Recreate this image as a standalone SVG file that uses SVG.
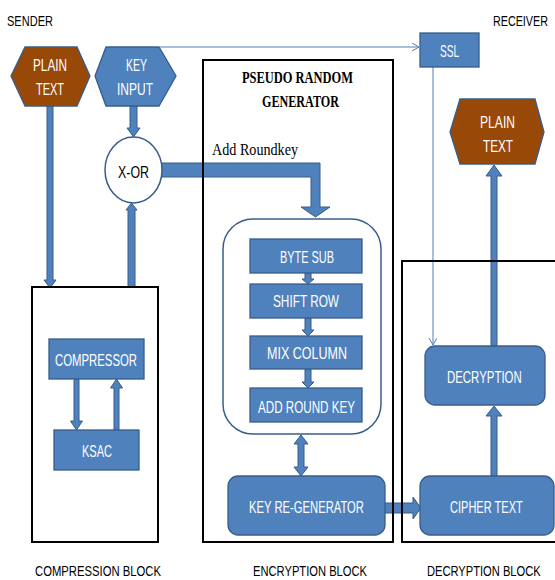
<svg xmlns="http://www.w3.org/2000/svg" width="555" height="580" viewBox="0 0 555 580">
<style>
.t{font-family:"Liberation Sans Narrow","Liberation Sans",Arial,sans-serif;font-size:17px;fill:#ffffff}
.k{font-family:"Liberation Sans Narrow","Liberation Sans",Arial,sans-serif;font-size:17px;fill:#000000}
.kb{font-family:"Liberation Sans Narrow","Liberation Sans",Arial,sans-serif;font-size:15px;fill:#000000}
.s{font-family:"Liberation Serif","Times New Roman",serif;font-size:17px;fill:#000000}
.sb{font-family:"Liberation Serif","Times New Roman",serif;font-size:16px;font-weight:bold;fill:#000000}
.box{fill:#4F81BD;stroke:#385D8A;stroke-width:1.3}
.brown{fill:#984807;stroke:#385D8A;stroke-width:1.3}
.arr{fill:#4F81BD;stroke:#385D8A;stroke-width:1}
.thin{fill:none;stroke:#4F81BD;stroke-width:1;marker-end:url(#open)}
.blk{fill:none;stroke:#000000;stroke-width:2}
</style>
<defs>
<marker id="open" markerWidth="10" markerHeight="10" refX="8" refY="4" orient="auto" markerUnits="userSpaceOnUse">
<path d="M1,0 L8,4 L1,8" fill="none" stroke="#4F81BD" stroke-width="1"/>
</marker>
</defs>
<g id="labels">
<text class="kb" x="7" y="26" textLength="46" lengthAdjust="spacingAndGlyphs">SENDER</text>
<text class="kb" transform="translate(493,26) scale(0.717,1)" x="0" y="0">RECEIVER</text>
<text class="s" x="212" y="155" textLength="86" lengthAdjust="spacingAndGlyphs">Add Roundkey</text>
<text class="sb" x="242" y="83" textLength="111" lengthAdjust="spacingAndGlyphs">PSEUDO RANDOM</text>
<text class="sb" x="262" y="107" textLength="77" lengthAdjust="spacingAndGlyphs">GENERATOR</text>
<text class="kb" x="35" y="576" textLength="126" lengthAdjust="spacingAndGlyphs">COMPRESSION BLOCK</text>
<text class="kb" x="253" y="576" textLength="114" lengthAdjust="spacingAndGlyphs">ENCRYPTION BLOCK</text>
<text class="kb" transform="translate(427,576) scale(0.743,1)" x="0" y="0">DECRYPTION BLOCK</text>
</g>
<g id="connectors">
<line class="thin" x1="160" y1="47" x2="419" y2="47"/>
<line class="thin" x1="433" y1="67" x2="433" y2="345"/>
<polygon class="arr" points="47,106 53,106 53,280 56,280 50,288 44,280 47,280"/>
<polygon class="arr" points="130,106 137,106 137,128 140,128 133.5,137 127,128 130,128"/>
<polygon class="arr" points="128,287 135,287 135,210 137,210 131.5,203 126,210 128,210"/>
<polygon class="arr" points="74,379 79,379 79,421 82.5,421 76.5,430 70.5,421 74,421"/>
<polygon class="arr" points="114,430 119,430 119,388 122.5,388 116.5,379 110.5,388 114,388"/>
<polygon class="arr" points="158,163 320,163 320,207 330,207 315.5,217 301,207 311,207 311,177 158,177"/>
<polygon class="arr" points="305,273 311,273 311,279 314,279 308,284 302,279 305,279"/>
<polygon class="arr" points="305,318 311,318 311,330 314,330 308,336 302,330 305,330"/>
<polygon class="arr" points="305,369 311,369 311,382 314,382 308,388 302,382 305,382"/>
<polygon class="arr" points="301,435 308,444 304,444 304,467 308,467 301,476 294,467 298,467 298,444 294,444"/>
<polygon class="arr" points="384,503 413,503 413,497 421,508 413,519 413,513 384,513"/>
<polygon class="arr" points="491,476 497,476 497,416 502,416 494,406 486,416 491,416"/>
<polygon class="arr" points="491,346 497,346 497,176 502,176 494,165 486,176 491,176"/>
</g>
<g id="blocks">
<rect id="compression-block" class="blk" x="32" y="287" width="126" height="255"/>
<rect id="encryption-block" class="blk" x="203" y="60" width="190" height="482"/>
<path id="decryption-block" class="blk" d="M555,261 H402 V542 H555"/>
</g>
<g id="plain-text-sender">
<polygon class="brown" points="11,76 25,47 77,47 90,76 77,106 25,106"/>
<text class="t" x="33" y="71" textLength="34" lengthAdjust="spacingAndGlyphs">PLAIN</text>
<text class="t" x="36" y="95" textLength="28" lengthAdjust="spacingAndGlyphs">TEXT</text>
</g>
<g id="key-input">
<polygon class="box" points="95,76 106,47 159,47 176,76 159,106 106,106"/>
<text class="t" x="126" y="71" textLength="21" lengthAdjust="spacingAndGlyphs">KEY</text>
<text class="t" x="117" y="95" textLength="36" lengthAdjust="spacingAndGlyphs">INPUT</text>
</g>
<g id="xor">
<ellipse cx="133.5" cy="170" rx="28.5" ry="33" fill="#ffffff" stroke="#385D8A" stroke-width="1.5"/>
<text class="k" x="118" y="178" textLength="31" lengthAdjust="spacingAndGlyphs">X-OR</text>
</g>
<g id="ssl">
<rect class="box" x="420" y="33" width="59" height="34"/>
<text class="t" x="440" y="57" textLength="19" lengthAdjust="spacingAndGlyphs">SSL</text>
</g>
<g id="plain-text-receiver">
<polygon class="brown" points="450,132 460,99 535,99 544,132 535,164 460,164"/>
<text class="t" x="480" y="128" textLength="35" lengthAdjust="spacingAndGlyphs">PLAIN</text>
<text class="t" x="483" y="152" textLength="30" lengthAdjust="spacingAndGlyphs">TEXT</text>
</g>
<g id="compressor">
<rect class="box" x="49" y="339" width="95" height="40"/>
<text class="t" x="55" y="366" textLength="82" lengthAdjust="spacingAndGlyphs">COMPRESSOR</text>
</g>
<g id="ksac">
<rect class="box" x="54" y="430" width="85" height="40"/>
<text class="t" x="82" y="457" textLength="30" lengthAdjust="spacingAndGlyphs">KSAC</text>
</g>
<g id="aes-rounds">
<rect x="223" y="219" width="158" height="215" rx="30" ry="30" fill="none" stroke="#385D8A" stroke-width="1.5"/>
</g>
<g id="byte-sub">
<rect class="box" x="250" y="239" width="112" height="34"/>
<text class="t" x="280" y="263" textLength="54" lengthAdjust="spacingAndGlyphs">BYTE SUB</text>
</g>
<g id="shift-row">
<rect class="box" x="250" y="284" width="112" height="34"/>
<text class="t" x="273" y="307" textLength="66" lengthAdjust="spacingAndGlyphs">SHIFT ROW</text>
</g>
<g id="mix-column">
<rect class="box" x="250" y="336" width="112" height="33"/>
<text class="t" x="267" y="359" textLength="80" lengthAdjust="spacingAndGlyphs">MIX COLUMN</text>
</g>
<g id="add-round-key">
<rect class="box" x="250" y="388" width="112" height="34"/>
<text class="t" x="258" y="413" textLength="97" lengthAdjust="spacingAndGlyphs">ADD ROUND KEY</text>
</g>
<g id="key-regenerator">
<rect class="box" x="228" y="476" width="157" height="59" rx="10" ry="10"/>
<text class="t" x="249" y="513" textLength="115" lengthAdjust="spacingAndGlyphs">KEY RE-GENERATOR</text>
</g>
<g id="decryption">
<rect class="box" x="425" y="346" width="120" height="59" rx="10" ry="10"/>
<text class="t" transform="translate(447,383) scale(0.673,1)" x="0" y="0">DECRYPTION</text>
</g>
<g id="cipher-text">
<rect class="box" x="420" y="476" width="134" height="59" rx="10" ry="10"/>
<text class="t" transform="translate(450,513) scale(0.649,1)" x="0" y="0">CIPHER TEXT</text>
</g>
</svg>
